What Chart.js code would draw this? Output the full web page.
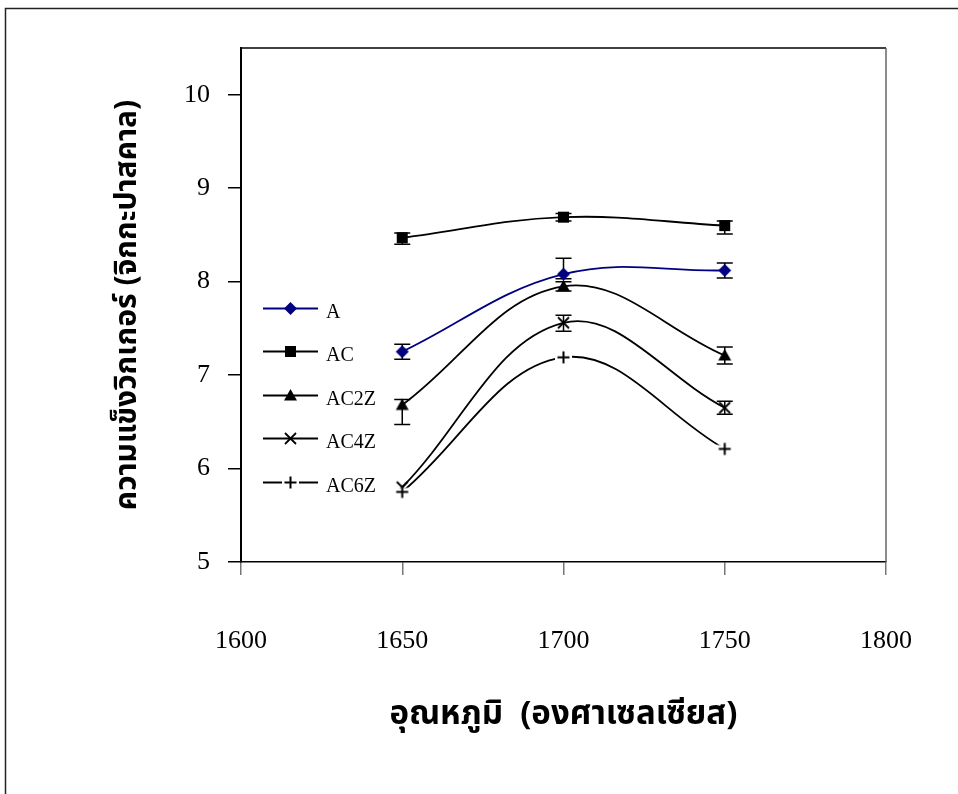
<!DOCTYPE html>
<html>
<head>
<meta charset="utf-8">
<title>ความแข็งวิกเกอร์</title>
<script src="https://cdn.jsdelivr.net/npm/chart.js@4.4.0/dist/chart.umd.min.js"></script>
<style>
  html, body { margin: 0; padding: 0; background: #ffffff; }
  canvas { display: block; }
</style>
</head>
<body>
<canvas id="hardness" width="958" height="794"></canvas>
<script>
// Sintering temperature (°C)
const temps = [1650, 1700, 1750];
const xTicks = [1600, 1650, 1700, 1750, 1800];
const yTicks = [5, 6, 7, 8, 9, 10];

// Vickers hardness (GPa) per composition
const seriesNames = ['A', 'AC', 'AC2Z', 'AC4Z', 'AC6Z'];
const hardnessA    = [7.25, 8.08, 8.12];
const hardnessAC   = [8.47, 8.69, 8.60];
const hardnessAC2Z = [6.68, 7.95, 7.21];
const hardnessAC4Z = [5.80, 7.56, 6.65];
const hardnessAC6Z = [5.75, 7.19, 6.21];

// Error bar extents above / below each mean
const errUpA      = [0.08, 0.17, 0.08];
const errDownA    = [0.08, 0.05, 0.08];
const errUpAC     = [0.05, 0.04, 0.05];
const errDownAC   = [0.07, 0.04, 0.09];
const errUpAC2Z   = [0.06, 0.05, 0.09];
const errDownAC2Z = [0.21, 0.05, 0.09];
const errUpAC4Z   = [0.00, 0.08, 0.07];
const errDownAC4Z = [0.00, 0.09, 0.07];
const errUpAC6Z   = [0.00, 0.00, 0.00];
const errDownAC6Z = [0.00, 0.00, 0.00];

const NAVY = '#000080';
const BLACK = '#000000';

// Marker images so the plot and the key share the same glyphs
function makeMarker(kind, color) {
  const s = 17, m = s / 2;
  const c = document.createElement('canvas');
  c.width = s; c.height = s;
  const g = c.getContext('2d');
  g.fillStyle = color; g.strokeStyle = color;
  if (kind === 'diamond') {
    g.beginPath();
    g.moveTo(m, m - 6.5); g.lineTo(m + 6.5, m); g.lineTo(m, m + 6.5); g.lineTo(m - 6.5, m);
    g.closePath(); g.fill();
  } else if (kind === 'square') {
    g.fillRect(m - 5.5, m - 5.5, 11, 11);
  } else if (kind === 'triangle') {
    g.beginPath();
    g.moveTo(m, m - 6.5); g.lineTo(m + 6.5, m + 5); g.lineTo(m - 6.5, m + 5);
    g.closePath(); g.fill();
  } else if (kind === 'x') {
    g.lineWidth = 1.8;
    g.beginPath();
    g.moveTo(m - 5.5, m - 5.5); g.lineTo(m + 5.5, m + 5.5);
    g.moveTo(m + 5.5, m - 5.5); g.lineTo(m - 5.5, m + 5.5);
    g.stroke();
  } else if (kind === 'plus') {
    g.fillStyle = '#ffffff';
    g.fillRect(0, m - 4, s, 8);
    g.lineWidth = 2;
    g.beginPath();
    g.moveTo(m - 6, m); g.lineTo(m + 6, m);
    g.moveTo(m, m - 6); g.lineTo(m, m + 6);
    g.stroke();
  }
  return c;
}

function points(values) {
  return temps.map((t, i) => ({ x: t, y: values[i] }));
}

const seriesValues = [hardnessA, hardnessAC, hardnessAC2Z, hardnessAC4Z, hardnessAC6Z];
const seriesErrUp = [errUpA, errUpAC, errUpAC2Z, errUpAC4Z, errUpAC6Z];
const seriesErrDown = [errDownA, errDownAC, errDownAC2Z, errDownAC4Z, errDownAC6Z];
const seriesColors = [NAVY, BLACK, BLACK, BLACK, BLACK];
const seriesMarkers = ['diamond', 'square', 'triangle', 'x', 'plus'];

const datasets = seriesNames.map((name, i) => ({
  label: name,
  data: points(seriesValues[i]),
  borderColor: seriesColors[i],
  backgroundColor: seriesColors[i],
  borderWidth: 1.8,
  tension: 0.38,
  pointStyle: makeMarker(seriesMarkers[i], seriesColors[i]),
  pointRadius: 6,
  pointHoverRadius: 6,
  order: seriesNames.length - i,
  fill: false
}));

// White page with the outer frame and the plot box outline
const framePlugin = {
  id: 'frame',
  beforeDraw(chart) {
    const { ctx, width, height } = chart;
    ctx.save();
    ctx.fillStyle = '#ffffff';
    ctx.fillRect(0, 0, width, height);
    ctx.strokeStyle = '#222222';
    ctx.lineWidth = 1.5;
    ctx.strokeRect(5.5, 8.5, width + 20, height + 20);
    ctx.restore();
  },
  afterDraw(chart) {
    const { ctx, chartArea: a } = chart;
    ctx.save();
    ctx.lineWidth = 1.5;
    ctx.strokeStyle = '#000000';
    ctx.beginPath();
    ctx.moveTo(a.left, a.top); ctx.lineTo(a.right, a.top);
    ctx.stroke();
    ctx.strokeStyle = '#666666';
    ctx.beginPath();
    ctx.moveTo(a.right, a.top); ctx.lineTo(a.right, a.bottom);
    ctx.stroke();
    ctx.restore();
  }
};

// Vertical error bars with caps, placed through the chart scales
const errorBarPlugin = {
  id: 'errorBars',
  beforeDatasetsDraw(chart) {
    const { ctx, scales: { x, y } } = chart;
    ctx.save();
    ctx.strokeStyle = '#000000';
    ctx.lineWidth = 1.5;
    seriesValues.forEach((vals, s) => {
      vals.forEach((v, j) => {
        const up = seriesErrUp[s][j], down = seriesErrDown[s][j];
        if (!up && !down) return;
        const px = x.getPixelForValue(temps[j]);
        const top = y.getPixelForValue(v + up);
        const bot = y.getPixelForValue(v - down);
        ctx.beginPath();
        ctx.moveTo(px, top); ctx.lineTo(px, bot);
        if (up) { ctx.moveTo(px - 8, top); ctx.lineTo(px + 8, top); }
        if (down) { ctx.moveTo(px - 8, bot); ctx.lineTo(px + 8, bot); }
        ctx.stroke();
      });
    });
    ctx.restore();
  }
};

// Series key drawn inside the plot box: line sample, marker, name
const keyPlugin = {
  id: 'seriesKey',
  afterDraw(chart) {
    const { ctx, chartArea: a } = chart;
    const x0 = a.left + 22, x1 = a.left + 77;
    ctx.save();
    chart.data.datasets.forEach((ds, i) => {
      const yy = Math.round(a.top + 260 + i * 43.4) + 0.5;
      ctx.strokeStyle = ds.borderColor;
      ctx.lineWidth = ds.borderWidth;
      ctx.beginPath();
      ctx.moveTo(x0, yy); ctx.lineTo(x1, yy);
      ctx.stroke();
      const img = ds.pointStyle;
      ctx.drawImage(img, Math.round((x0 + x1) / 2 - img.width / 2), Math.round(yy - img.height / 2));
      ctx.fillStyle = '#000000';
      ctx.font = '20px "Liberation Serif", "Times New Roman", serif';
      ctx.textBaseline = 'middle';
      ctx.textAlign = 'left';
      ctx.fillText(ds.label, x1 + 8, yy + 4);
    });
    ctx.restore();
  }
};

const tickFont = { family: '"Liberation Serif", "Times New Roman", serif', size: 26 };
const thaiFamily = '"Noto Sans Thai", "Noto Serif Thai", "Loma", "Garuda", "Norasi", "Noto Sans", sans-serif';

new Chart(document.getElementById('hardness'), {
  type: 'line',
  data: { datasets },
  options: {
    responsive: false,
    devicePixelRatio: 1,
    animation: false,
    layout: { padding: { top: 48, right: 72, left: 0, bottom: 0 } },
    plugins: {
      legend: { display: false },
      tooltip: { enabled: false }
    },
    scales: {
      x: {
        type: 'linear',
        min: xTicks[0],
        max: xTicks[xTicks.length - 1],
        afterBuildTicks(scale) { scale.ticks = xTicks.map(v => ({ value: v })); },
        afterFit(scale) {
          scale.height = 232;
          scale.paddingLeft = 0;
          scale.paddingRight = 0;
        },
        grid: { drawOnChartArea: false, drawTicks: true, tickLength: 13, color: '#777777', lineWidth: 1.5 },
        border: { color: '#000000', width: 1.5 },
        ticks: { color: '#000000', font: tickFont, padding: 51, maxRotation: 0, callback: v => String(v) },
        title: {
          display: true,
          text: 'อุณหภูมิ  (องศาเซลเซียส)',
          color: '#000000',
          font: { family: thaiFamily, size: 33, weight: 'bold' },
          padding: { top: 0, bottom: 57 }
        }
      },
      y: {
        type: 'linear',
        min: 5,
        max: 10.5,
        afterBuildTicks(scale) { scale.ticks = yTicks.map(v => ({ value: v })); },
        afterFit(scale) {
          scale.width = 241;
          scale.paddingTop = 0;
          scale.paddingBottom = 0;
        },
        grid: { drawOnChartArea: false, drawTicks: true, tickLength: 13, color: '#000000', lineWidth: 1.5 },
        border: { color: '#000000', width: 2 },
        ticks: { color: '#000000', font: tickFont, padding: 18, callback: v => String(v) },
        title: {
          display: true,
          text: 'ความแข็งวิกเกอร์ (จิกกะปาสคาล)',
          color: '#000000',
          font: { family: thaiFamily, size: 30, weight: 'bold' },
          padding: { top: 112, bottom: 0 }
        }
      }
    }
  },
  plugins: [framePlugin, errorBarPlugin, keyPlugin]
});
</script>
</body>
</html>
